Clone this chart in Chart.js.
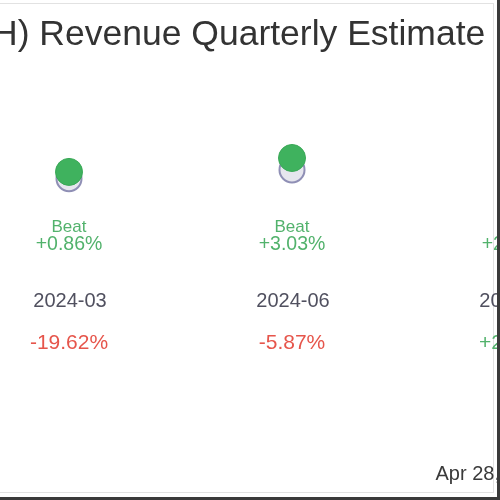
<!DOCTYPE html>
<html>
<head>
<meta charset="utf-8">
<script src="https://cdn.jsdelivr.net/npm/chart.js@4.4.1/dist/chart.umd.min.js"></script>
<style>
  html, body { margin: 0; padding: 0; background: #fff; }
  #frame { position: absolute; left: 0; top: 0; width: 497px; height: 497px; overflow: hidden;
           border-right: 3px solid #3a3a3a; border-bottom: 3px solid #3a3a3a; background: #fff; }
  #card { position: absolute; left: -20px; top: 3px; width: 512px; height: 488px; border: 1px solid #e2e2e2; }
  #wrap { position: absolute; left: -8px; top: 0; width: 558px; height: 500px; }
</style>
</head>
<body>
<div id="frame">
  <div id="card"></div>
  <div id="wrap"><canvas id="chart" width="558" height="500"></canvas></div>
</div>
<script>
// quarters shown (third one is cut off at the right edge)
const quarters = ['2024-03', '2024-06', '2024-09'];
const estimates = [71.3, 73.5, 75.0];
const actuals = [73.0, 76.5, 77.2];
const results = ['Beat', 'Beat', 'Beat'];
const surprise = ['+0.86%', '+3.03%', '+2.14%'];
const yoyGrowth = ['-19.62%', '-5.87%', '+2.35%'];

const GREEN = '#52b26c';
const RED = '#e6554b';
const FONT = '"Liberation Sans", Arial, sans-serif';

const columnLabels = {
    id: 'columnLabels',
    afterDatasetsDraw(chart) {
        const ctx = chart.ctx;
        const xScale = chart.scales.x;
        ctx.save();
        ctx.textAlign = 'center';
        ctx.textBaseline = 'middle';
        quarters.forEach((q, i) => {
            const px = xScale.getPixelForValue(i);
            ctx.fillStyle = results[i] === 'Beat' ? GREEN : RED;
            ctx.font = '17px ' + FONT;
            ctx.fillText(results[i], px, 227);
            ctx.font = '19.5px ' + FONT;
            ctx.fillText(surprise[i], px, 245);
            ctx.fillStyle = '#50505f';
            ctx.font = '20px ' + FONT;
            ctx.fillText(q, px + 1, 301);
            ctx.fillStyle = yoyGrowth[i].startsWith('-') ? RED : GREEN;
            ctx.font = '21px ' + FONT;
            ctx.fillText(yoyGrowth[i], px, 343);
        });
        ctx.restore();
    }
};

const ctx = document.getElementById('chart').getContext('2d');
new Chart(ctx, {
    type: 'scatter',
    data: {
        datasets: [
            {
                label: 'Actual',
                data: actuals.map((v, i) => ({ x: i, y: v })),
                backgroundColor: '#3fb25e',
                borderColor: '#3aa857',
                borderWidth: 1,
                pointRadius: 13.5
            },
            {
                label: 'Estimate',
                data: estimates.map((v, i) => ({ x: i, y: v })),
                backgroundColor: '#e6e6ee',
                borderColor: '#8f8fb5',
                borderWidth: 2,
                pointRadius: 12.5
            }
        ]
    },
    options: {
        responsive: false,
        animation: false,
        clip: false,
        plugins: {
            legend: { display: false },
            tooltip: { enabled: false },
            title: {
                display: true,
                text: 'H) Revenue Quarterly Estimate',
                align: 'start',
                color: '#333',
                font: { family: FONT, size: 35.5, weight: 'normal' },
                padding: { top: 14, bottom: 8 }
            },
            subtitle: {
                display: true,
                position: 'bottom',
                align: 'end',
                text: 'Apr 28, 2025',
                color: '#3a3a3a',
                font: { family: FONT, size: 20, weight: 'normal' },
                padding: { top: 0, bottom: 14 }
            }
        },
        scales: {
            x: { type: 'linear', display: false, min: -0.3453, max: 2.1569 },
            y: { display: false, min: 0, max: 100 }
        },
        layout: { padding: 0, autoPadding: false }
    },
    plugins: [columnLabels]
});
</script>
</body>
</html>
